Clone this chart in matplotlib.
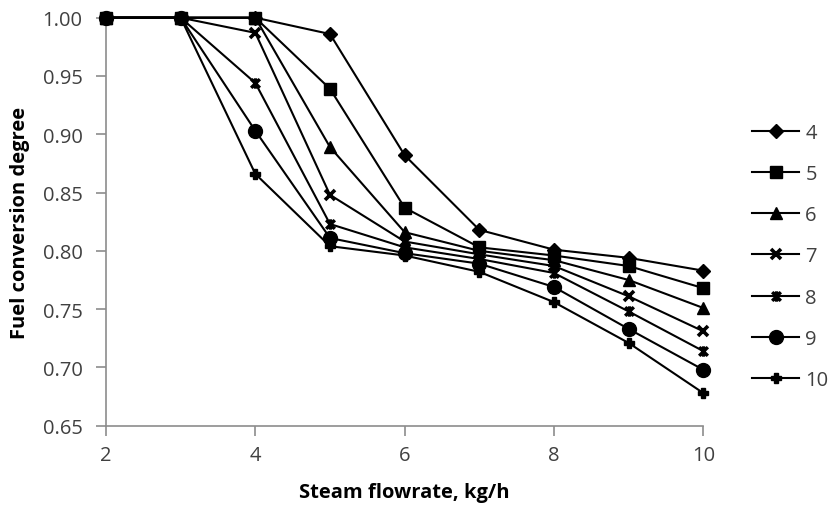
import matplotlib
matplotlib.use("Agg")
import matplotlib.pyplot as plt
from matplotlib.path import Path

plt.rcParams['font.family'] = ['Open Sans', 'DejaVu Sans']

x = [2, 3, 4, 5, 6, 7, 8, 9, 10]
series_labels = ['4', '5', '6', '7', '8', '9', '10']
s4 = [1.0, 1.0, 1.0, 0.986, 0.882, 0.818, 0.801, 0.794, 0.783]
s5 = [1.0, 1.0, 1.0, 0.939, 0.837, 0.803, 0.796, 0.787, 0.768]
s6 = [1.0, 1.0, 1.0, 0.889, 0.816, 0.800, 0.792, 0.775, 0.751]
s7 = [1.0, 1.0, 0.987, 0.848, 0.808, 0.797, 0.787, 0.761, 0.731]
s8 = [1.0, 1.0, 0.944, 0.823, 0.803, 0.793, 0.781, 0.748, 0.714]
s9 = [1.0, 1.0, 0.903, 0.811, 0.798, 0.789, 0.769, 0.733, 0.698]
s10 = [1.0, 1.0, 0.866, 0.804, 0.796, 0.782, 0.756, 0.721, 0.678]
all_series = [s4, s5, s6, s7, s8, s9, s10]

star_path = Path([(-1, -1), (1, 1), (-1, 1), (1, -1), (0, -1.2), (0, 1.2)],
                 [Path.MOVETO, Path.LINETO, Path.MOVETO, Path.LINETO, Path.MOVETO, Path.LINETO])

styles = [
    dict(marker='D', markersize=7),
    dict(marker='s', markersize=8.5),
    dict(marker='^', markersize=8.5),
    dict(marker='x', markersize=7.5, markeredgewidth=2.6),
    dict(marker=star_path, markersize=7.5, markeredgewidth=2.4),
    dict(marker='o', markersize=10),
    dict(marker='P', markersize=7.5),
]

fig = plt.figure(figsize=(8.33, 5.10), dpi=100)
ax = fig.add_axes([106/833, 1 - 426.7/510, (703.3 - 106)/833, (426.7 - 18.7)/510])

handles = []
for lab, ys, st in zip(series_labels, all_series, styles):
    h, = ax.plot(x, ys, color='black', linewidth=1.5, markerfacecolor='black',
                 markeredgecolor='black', label=lab, clip_on=False, zorder=3, **st)
    handles.append(h)

ax.set_xlim(2, 10)
ax.set_ylim(0.65, 1.00)
ax.set_xticks([2, 4, 6, 8, 10])
yt = [0.65, 0.70, 0.75, 0.80, 0.85, 0.90, 0.95, 1.00]
ax.set_yticks(yt)
ax.set_yticklabels([f"{v:.2f}" for v in yt])

for s in ['top', 'right']:
    ax.spines[s].set_visible(False)
for s in ['left', 'bottom']:
    ax.spines[s].set_color('#8c8c8c')
    ax.spines[s].set_linewidth(1.2)

ax.tick_params(axis='both', direction='out', length=7, width=1.2, color='#8c8c8c',
               labelsize=14.5, labelcolor='#404040')
ax.tick_params(axis='y', pad=10)
ax.tick_params(axis='x', pad=7)

ax.set_xlabel('Steam flowrate, kg/h', fontsize=14.5, fontweight='bold', color='black')
ax.set_ylabel('Fuel conversion degree', fontsize=14.5, fontweight='bold', color='black')
ax.xaxis.set_label_coords(0.5, -0.138)
ax.yaxis.set_label_coords(-0.128, 0.5)

leg = fig.legend(handles=handles, labels=series_labels, loc='upper left',
                 bbox_to_anchor=(752/833, 1 - 124/510), frameon=False,
                 fontsize=14.5, handlelength=2.35, handletextpad=0.3,
                 labelspacing=1.05, borderpad=0, borderaxespad=0)
for t in leg.get_texts():
    t.set_color('#404040')

fig.savefig('out.png', dpi=100)
